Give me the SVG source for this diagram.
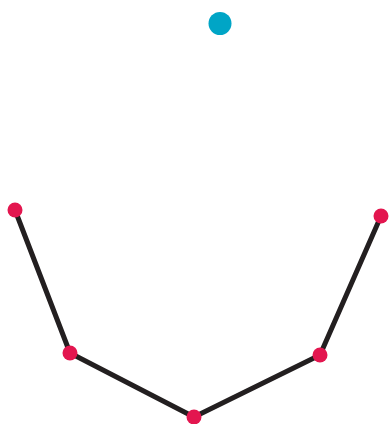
<svg xmlns="http://www.w3.org/2000/svg" width="389" height="424" viewBox="0 0 389 424">
<style>
.edge{stroke:#231f20;stroke-width:5;fill:none;stroke-linecap:round;stroke-linejoin:round}
.pt{fill:#e3164f}
.top{fill:#00a5c6}
</style>
<rect width="389" height="424" fill="#ffffff"/>
<g id="connectors">
<polyline class="edge" points="15,210 70,353 194,417 320,355 381,216"/>
</g>
<g id="n-top"><circle class="top" cx="220" cy="23.5" r="11.5"/></g>
<g id="n1"><circle class="pt" cx="15" cy="210" r="7.5"/></g>
<g id="n2"><circle class="pt" cx="70" cy="353" r="7.5"/></g>
<g id="n3"><circle class="pt" cx="194" cy="417" r="7.5"/></g>
<g id="n4"><circle class="pt" cx="320" cy="355" r="7.5"/></g>
<g id="n5"><circle class="pt" cx="381" cy="216" r="7.5"/></g>
</svg>
